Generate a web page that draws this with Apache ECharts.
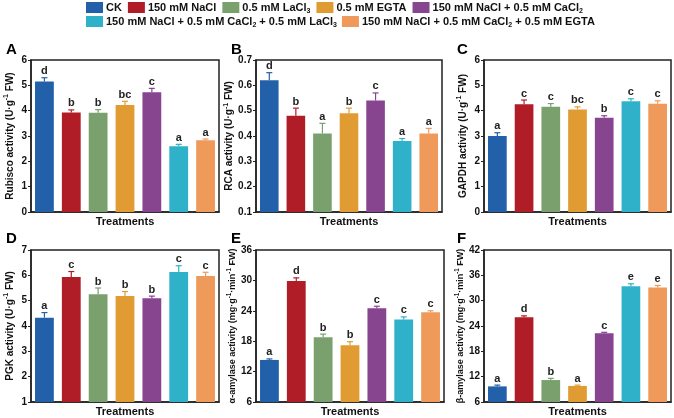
<!DOCTYPE html>
<html><head><meta charset="utf-8">
<script src="https://cdn.jsdelivr.net/npm/echarts@6/dist/echarts.min.js"></script>
<style>html,body{margin:0;padding:0;background:#fff}#c{width:674px;height:418px}</style>
</head><body><div id="c"></div>
<script>
const treatments = ['CK','150 mM NaCl','0.5 mM LaCl3','0.5 mM EGTA','150 mM NaCl + 0.5 mM CaCl2','150 mM NaCl + 0.5 mM CaCl2 + 0.5 mM LaCl3','150 mM NaCl + 0.5 mM CaCl2 + 0.5 mM EGTA'];
const colors = ['#2260a9','#b01d26','#7aa06e','#e09c33','#87458f','#2fb2c9','#ef9a5a'];
const panelLetters = ['A','B','C','D','E','F'];
const yTitles = ['Rubisco activity (U·g{sup|-1} FW)','RCA activity (U·g{sup|-1} FW)','GAPDH activity (U·g{sup|-1} FW)','PGK activity (U·g{sup|-1} FW)','α-amylase activity (mg·g{sup|-1}·min{sup|-1} FW)','β-amylase activity (mg·g{sup|-1}·min{sup|-1} FW)'];
const yMin = [0, 0.1, 0, 1, 6, 6];
const yMax = [6, 0.7, 6, 7, 36, 42];
const yStep = [1, 0.1, 1, 1, 6, 6];
const rubisco = [5.15, 3.93, 3.92, 4.22, 4.73, 2.60, 2.83];
const rubiscoErr = [0.15, 0.10, 0.12, 0.15, 0.15, 0.07, 0.05];
const rubiscoSig = ['d','b','b','bc','c','a','a'];
const rca = [0.62, 0.48, 0.41, 0.49, 0.54, 0.38, 0.41];
const rcaErr = [0.03, 0.03, 0.04, 0.02, 0.03, 0.01, 0.02];
const rcaSig = ['d','b','a','b','c','a','a'];
const gapdh = [3.00, 4.25, 4.15, 4.05, 3.72, 4.37, 4.27];
const gapdhErr = [0.13, 0.17, 0.13, 0.10, 0.08, 0.10, 0.12];
const gapdhSig = ['a','c','c','bc','b','c','c'];
const pgk = [4.33, 5.93, 5.25, 5.18, 5.10, 6.13, 5.97];
const pgkErr = [0.20, 0.22, 0.25, 0.18, 0.08, 0.25, 0.15];
const pgkSig = ['a','c','b','b','b','c','c'];
const alphaAmy = [14.3, 29.9, 18.8, 17.2, 24.5, 22.3, 23.7];
const alphaAmyErr = [0.2, 0.6, 0.6, 0.7, 0.4, 0.5, 0.3];
const alphaAmySig = ['a','d','b','b','c','c','c'];
const betaAmy = [9.7, 26.1, 11.2, 9.8, 22.3, 33.4, 33.1];
const betaAmyErr = [0.3, 0.3, 0.4, 0.2, 0.2, 0.6, 0.5];
const betaAmySig = ['a','d','b','a','c','e','e'];

const vals = [rubisco, rca, gapdh, pgk, alphaAmy, betaAmy];
const errs = [rubiscoErr, rcaErr, gapdhErr, pgkErr, alphaAmyErr, betaAmyErr];
const sigs = [rubiscoSig, rcaSig, gapdhSig, pgkSig, alphaAmySig, betaAmySig];

const FONT = 'Liberation Sans, Arial, sans-serif';
const gridPos = [
  {left:31, top:60, width:188, height:152},
  {left:256, top:60, width:186, height:152},
  {left:484, top:60, width:187, height:152},
  {left:31, top:250, width:188, height:152},
  {left:256, top:250, width:188, height:152},
  {left:484, top:250, width:187, height:152}
];
const titlePos = [[6,42],[231,42],[457,42],[6,231],[231,231],[457,231]];
const nameGaps = [14, 17, 14, 14, 16, 16];
const nameSizes = [10, 10, 10, 10, 9, 9];

function legendFmt(name){
  return name.replace('LaCl3','LaCl{sub|3}').replace('CaCl2','CaCl{sub|2}');
}
const richSub = {sub:{fontSize:7, fontWeight:'bold', fontFamily:FONT, color:'#111', padding:[7,0,0,0]}};
function richSup(fs){ return {
  sup:{fontSize:fs*0.7, fontWeight:'bold', fontFamily:FONT, color:'#111', padding:[0,0,fs*0.7,0]}
};}

const option = {
  animation:false,
  backgroundColor:'#fff',
  title: panelLetters.map((L,i)=>({text:L, left:titlePos[i][0], top:titlePos[i][1], padding:0, textStyle:{fontSize:15, fontWeight:'bold', fontFamily:FONT, color:'#000'}})),
  legend:[
    {data:treatments.slice(0,5), left:86, top:2, padding:0, itemWidth:17, itemHeight:11, itemGap:6, icon:'rect', formatter:legendFmt, selectedMode:false,
     textStyle:{fontSize:11, fontWeight:'bold', fontFamily:FONT, color:'#111', padding:[0,0,0,-2], rich:richSub}},
    {data:treatments.slice(5), left:86, top:16, padding:0, itemWidth:17, itemHeight:11, itemGap:5, icon:'rect', formatter:legendFmt, selectedMode:false,
     textStyle:{fontSize:11, fontWeight:'bold', fontFamily:FONT, color:'#111', padding:[0,0,0,-2], rich:richSub}}
  ],
  grid: gridPos.map(g=>Object.assign({show:true, borderColor:'#222', borderWidth:1.5, backgroundColor:'transparent'}, g)),
  xAxis: gridPos.map((g,i)=>({type:'category', gridIndex:i, data:treatments, axisTick:{show:false}, axisLabel:{show:false},
    axisLine:{lineStyle:{color:'#222', width:1.5}}, name:'Treatments', nameLocation:'middle', nameGap:4,
    nameTextStyle:{fontSize:11, fontWeight:'bold', fontFamily:FONT, color:'#111', verticalAlign:'top'}})),
  yAxis: gridPos.map((g,i)=>({type:'value', gridIndex:i, min:yMin[i], max:yMax[i], interval:yStep[i],
    splitLine:{show:false}, axisLine:{show:true, lineStyle:{color:'#222', width:1.5}},
    axisTick:{show:true, length:3, lineStyle:{color:'#222'}},
    axisLabel:{fontSize:10, fontWeight:'bold', fontFamily:FONT, color:'#111', margin:4,
      formatter: v => i===1 ? v.toFixed(1) : String(Math.round(v))},
    name:yTitles[i], nameLocation:'middle', nameGap: nameGaps[i],
    nameTextStyle:{fontSize:nameSizes[i], fontWeight:'bold', fontFamily:FONT, color:'#111', rich:richSup(nameSizes[i])}})),
  series: []
};

for (let p=0; p<6; p++){
  for (let k=0; k<7; k++){
    const d = treatments.map((t,j)=> j===k ? vals[p][j] : null);
    option.series.push({type:'bar', name:treatments[k], xAxisIndex:p, yAxisIndex:p, data:d,
      barWidth:'70%', barGap:'-100%', itemStyle:{color:colors[k]}, z:2});
  }
  option.series.push({type:'custom', xAxisIndex:p, yAxisIndex:p, z:5,
    data: vals[p].map((v,j)=>[j, v, errs[p][j]]),
    renderItem: (function(pi){ return function(params, api){
      const j = api.value(0), v = api.value(1), e = api.value(2);
      const base = api.coord([j, v]);
      const top = api.coord([j, v+e]);
      const c = colors[j];
      return {type:'group', children:[
        {type:'line', shape:{x1:base[0], y1:base[1], x2:top[0], y2:top[1]}, style:{stroke:c, lineWidth:1.2}},
        {type:'line', shape:{x1:top[0]-3, y1:top[1], x2:top[0]+3, y2:top[1]}, style:{stroke:c, lineWidth:1.2}},
        {type:'text', x:top[0], y:top[1]-1, style:{text:sigs[pi][j], textAlign:'center', textVerticalAlign:'bottom',
          fontSize:11, fontWeight:'bold', fontFamily:FONT, fill:'#222'}}
      ]};
    };})(p)
  });
}

const chart = echarts.init(document.getElementById('c'), null, {renderer:'canvas'});
chart.setOption(option);
</script></body></html>
